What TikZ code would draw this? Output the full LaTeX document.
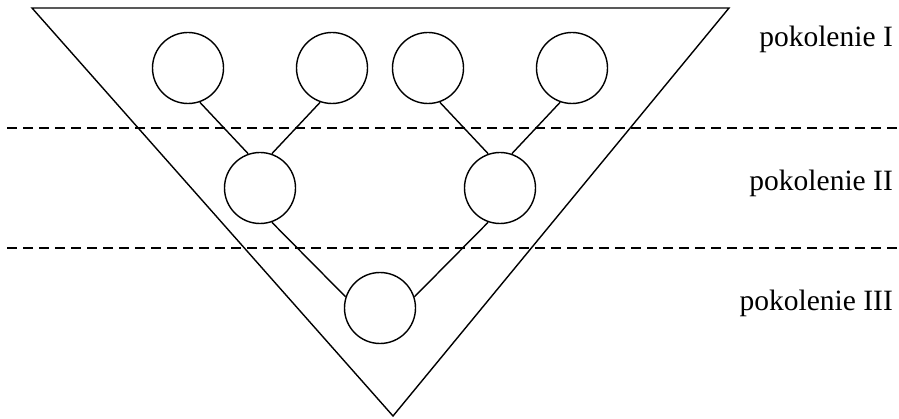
\documentclass[tikz,border=0pt]{standalone}
\usepackage{fontspec}
\setmainfont{Liberation Serif}
\begin{document}
\begin{tikzpicture}[x=1pt,y=-1pt,
  ind/.style={circle,draw,line width=1.4pt,minimum size=71pt,inner sep=0pt},
  link/.style={line width=1.4pt},
  sep/.style={line width=1.4pt,dash pattern=on 10pt off 6pt},
  gen/.style={anchor=east,font=\fontsize{29.5}{33}\selectfont,inner sep=0pt}]
\useasboundingbox (0,0) rectangle (899,419);
\coordinate (tl) at (32,8);
\coordinate (tr) at (729,8);
\coordinate (ap) at (393,416);
\draw[line width=1.4pt,line join=miter] (tl) -- (tr) -- (ap) -- cycle;
\coordinate (d1a) at (7,128); \coordinate (d1b) at (899,128);
\coordinate (d2a) at (7,248); \coordinate (d2b) at (899,248);
\draw[sep] (d1a) -- (d1b);
\draw[sep] (d2a) -- (d2b);
\node[ind] (c1) at (188,68) {};
\node[ind] (c2) at (332,68) {};
\node[ind] (c3) at (428,68) {};
\node[ind] (c4) at (572,68) {};
\node[ind] (g2a) at (260,188) {};
\node[ind] (g2b) at (500,188) {};
\node[ind] (g3) at (380,308) {};
\draw[link] (c1.-71) -- (g2a.109);
\draw[link] (c2.-109) -- (g2a.71);
\draw[link] (c3.-71) -- (g2b.109);
\draw[link] (c4.-109) -- (g2b.71);
\draw[link] (g2a.-71) -- (g3.162);
\draw[link] (g2b.-109) -- (g3.18);
\node[gen] (p1) at (893,39) {pokolenie I};
\node[gen] (p2) at (893,183) {pokolenie II};
\node[gen] (p3) at (893,303) {pokolenie III};
\end{tikzpicture}
\end{document}
